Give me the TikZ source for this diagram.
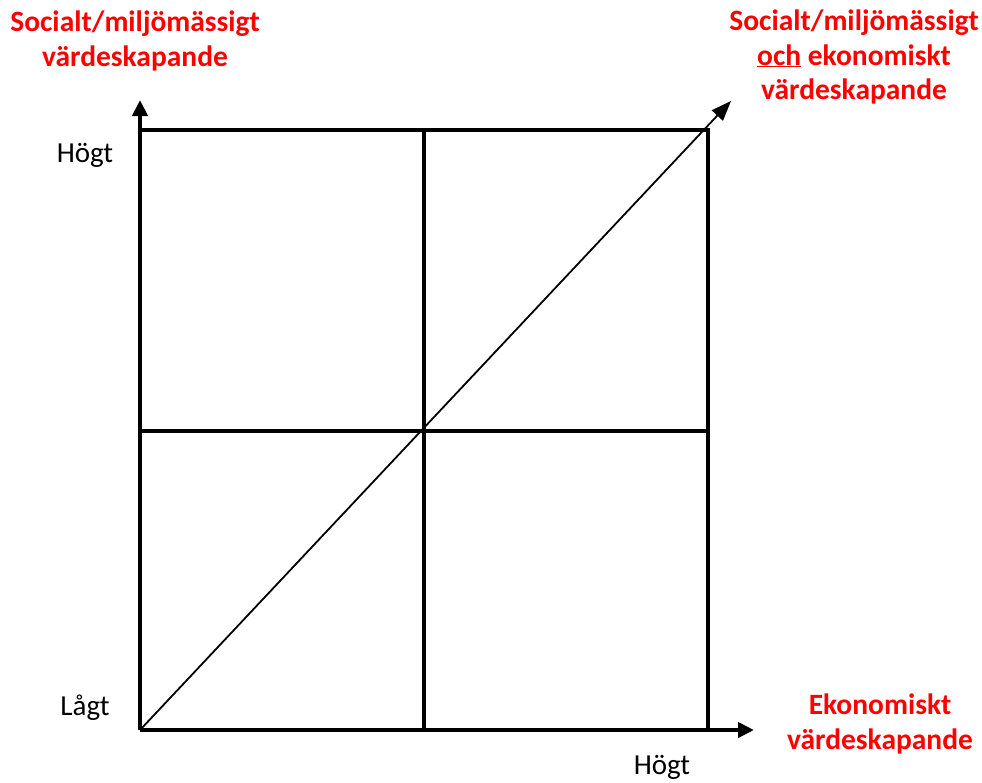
\documentclass[tikz,border=0pt]{standalone}
\usepackage{fontspec}
\setmainfont{Carlito}
\usepackage{xcolor}
\usepackage{tikz}
\usetikzlibrary{arrows.meta}

\begin{document}
\begin{tikzpicture}[
      x=1pt, y=-1pt,
      % styles for the matrix
      frame/.style={line width=4.5pt},
      divider/.style={line width=3.5pt},
      axis/.style={line width=4.5pt, -{Triangle[length=16pt,width=15pt]}},
      diag/.style={line width=1.8pt, -{Triangle[length=20pt,width=15pt]}},
      goal/.style={text=red, font=\fontsize{29.5}{34.5}\selectfont\bfseries, align=center},
      level/.style={font=\fontsize{29}{32}\selectfont}
    ]
    \useasboundingbox (0,0) rectangle (982,782);

    % corners of the matrix
    \coordinate (o) at (140,730);
    \coordinate (tl) at (140,130);
    \coordinate (tr) at (708,130);
    \coordinate (br) at (708,730);
    \coordinate (mt) at (424,130);
    \coordinate (mb) at (424,730);
    \coordinate (ml) at (140,431);
    \coordinate (mr) at (708,431);
    \coordinate (ytip) at (140,100);
    \coordinate (xtip) at (754,730);
    \coordinate (dtip) at (731,101);

    % quadrants
    \draw[divider] (mt) -- (mb);
    \draw[divider] (ml) -- (mr);
    \draw[frame] (tl) -- (tr) -- (br);
    \draw[diag] (o) -- (dtip);
    \draw[axis] (o) -- (ytip);
    \draw[axis] (o) -- (xtip);

    % labels
    \node[goal] (social) at (135,41) {Socialt/miljömässigt\\värdeskapande};
    \node[goal] (both) at (854,57) {Socialt/miljömässigt\\\underline{och} ekonomiskt\\värdeskapande};
    \node[goal] (econ) at (880,724) {Ekonomiskt\\värdeskapande};
    \node[level] (yhigh) at (85,155) {Högt};
    \node[level] (ylow) at (85,708) {Lågt};
    \node[level] (xhigh) at (662,767) {Högt};
  \end{tikzpicture}
\end{document}
